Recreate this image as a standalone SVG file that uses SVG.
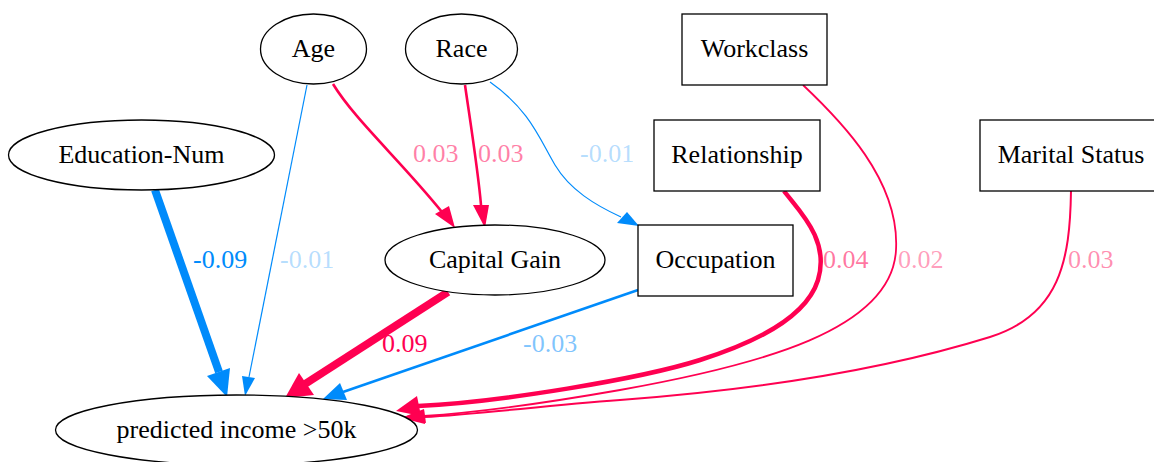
<svg xmlns="http://www.w3.org/2000/svg" width="1154" height="462" viewBox="0 0 1154 462">
<style>
.n{fill:#fff;stroke:#000;stroke-width:1.3}
.t{font-family:"Liberation Serif","Times New Roman",serif;font-size:26px;fill:#000;text-anchor:middle}
.l{font-family:"Liberation Serif","Times New Roman",serif;font-size:26px}
.r{fill:none;stroke:#ff0051}
.b{fill:none;stroke:#008bfb}
.rh{fill:#ff0051}
.bh{fill:#008bfb}
.lr{fill:#ff0051}
.lb{fill:#008bfb}
</style>
<rect width="1154" height="462" fill="#fff"/>
<g id="connectors">
  <!-- Education-Num -> predicted -->
  <path class="b" stroke-width="8" d="M155,190 L219,372"/>
  <polygon class="bh" points="207,376 230,368 227,397"/>
  <!-- Age -> predicted -->
  <path class="b" stroke-width="1.2" d="M307,85 L249,377"/>
  <polygon class="bh" points="242,376 255,378 245,396"/>
  <!-- Age -> Capital Gain -->
  <path class="r" stroke-width="2.6" d="M333,84 C355,120 400,160 442,212"/>
  <polygon class="rh" points="435,214 449,206 455,228"/>
  <!-- Race -> Capital Gain -->
  <path class="r" stroke-width="2.6" d="M465,85 C470,120 478,170 481,205"/>
  <polygon class="rh" points="473,205 489,205 485,228"/>
  <!-- Race -> Occupation -->
  <path class="b" stroke-width="1.2" d="M490,82 C530,110 540,140 555,165 C570,190 595,205 621,217"/>
  <polygon class="bh" points="617,223 627,212 639,226"/>
  <!-- Capital Gain -> predicted -->
  <path class="r" stroke-width="8" d="M448,292 L305,384"/>
  <polygon class="rh" points="299,373 314,395 285,398"/>
  <!-- Occupation -> predicted -->
  <path class="b" stroke-width="2.6" d="M638,290 L343,392"/>
  <polygon class="bh" points="340,383 347,400 323,399"/>
  <!-- Relationship -> predicted -->
  <path class="r" stroke-width="4.5" d="M784,191 C800,212 830,240 818,280 C808,312 770,338 700,360 C640,379 500,402 418,406"/>
  <polygon class="rh" points="417,396 421,416 396,411"/>
  <!-- Workclass -> predicted -->
  <path class="r" stroke-width="1.8" d="M803,85 C840,120 900,180 896,250 C892,330 760,365 620,390 C540,404 470,413 424,416"/>
  <polygon class="rh" points="424,409 426,423 401,418"/>
  <!-- Marital Status -> predicted -->
  <path class="r" stroke-width="2" d="M1071,191 C1070,260 1060,315 990,337 C900,365 780,388 620,400 C540,406 480,414 424,417"/>
  <polygon class="rh" points="424,410 425,424 401,418"/>
  <!-- labels -->
  <text class="l lb" x="193" y="268">-0.09</text>
  <text class="l lb" x="280" y="268" fill-opacity="0.3">-0.01</text>
  <text class="l lr" x="413" y="162" fill-opacity="0.5">0.03</text>
  <text class="l lr" x="478" y="162" fill-opacity="0.5">0.03</text>
  <text class="l lb" x="580" y="162" fill-opacity="0.3">-0.01</text>
  <text class="l lr" x="823" y="268" fill-opacity="0.55">0.04</text>
  <text class="l lr" x="898" y="268" fill-opacity="0.4">0.02</text>
  <text class="l lr" x="1068" y="268" fill-opacity="0.45">0.03</text>
  <text class="l lr" x="382" y="352">0.09</text>
  <text class="l lb" x="523" y="352" fill-opacity="0.5">-0.03</text>
</g>
<g id="age"><ellipse class="n" cx="313.5" cy="49" rx="53" ry="35"/><text class="t" x="313.5" y="57">Age</text></g>
<g id="race"><ellipse class="n" cx="461.5" cy="49" rx="56" ry="35"/><text class="t" x="461.5" y="57">Race</text></g>
<g id="workclass"><rect class="n" x="682" y="14" width="145" height="71"/><text class="t" x="754.5" y="57">Workclass</text></g>
<g id="education-num"><ellipse class="n" cx="141.5" cy="155" rx="133" ry="35"/><text class="t" x="141.5" y="163">Education-Num</text></g>
<g id="relationship"><rect class="n" x="654" y="120" width="166" height="71"/><text class="t" x="737" y="163">Relationship</text></g>
<g id="marital-status"><rect class="n" x="980" y="120" width="182" height="71"/><text class="t" x="1071" y="163">Marital Status</text></g>
<g id="capital-gain"><ellipse class="n" cx="495" cy="260" rx="110" ry="35"/><text class="t" x="495" y="268">Capital Gain</text></g>
<g id="occupation"><rect class="n" x="638" y="225" width="155" height="71"/><text class="t" x="715.5" y="268">Occupation</text></g>
<g id="predicted"><ellipse class="n" cx="236.5" cy="430" rx="181" ry="35"/><text class="t" x="236.5" y="438">predicted income &gt;50k</text></g>
</svg>
